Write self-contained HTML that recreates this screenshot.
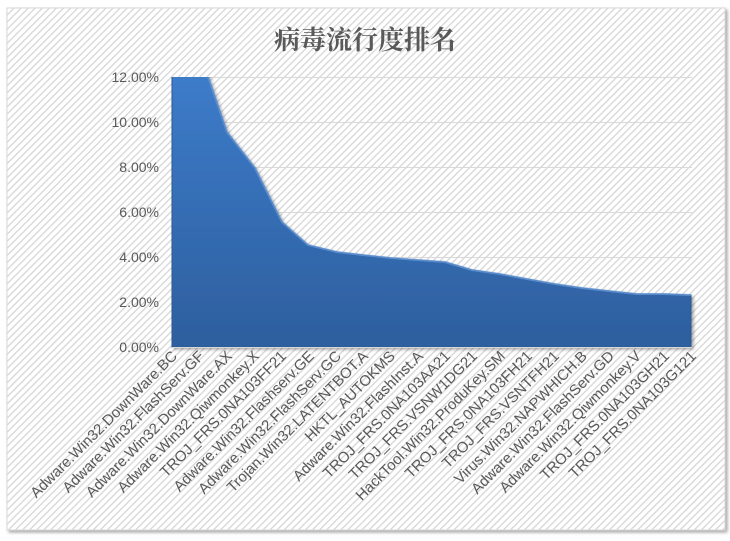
<!DOCTYPE html>
<html><head><meta charset="utf-8"><style>
html,body{margin:0;padding:0;background:#fff;}
svg{display:block;}
</style></head><body>
<svg width="730" height="541" viewBox="0 0 730 541" xmlns="http://www.w3.org/2000/svg">
<defs>
<pattern id="h" width="5" height="5" patternUnits="userSpaceOnUse" patternTransform="rotate(45)">
<rect width="5" height="5" fill="#ffffff"/>
<rect x="0" y="0" width="1.3" height="5" fill="#d6d6d6"/>
</pattern>
<linearGradient id="g" x1="0" y1="0" x2="0" y2="1">
<stop offset="0" stop-color="#3f7fcf"/>
<stop offset="1" stop-color="#2d5f9e"/>
</linearGradient>
<filter id="sh" x="-5%" y="-5%" width="110%" height="110%">
<feDropShadow dx="2" dy="2" stdDeviation="1.5" flood-color="#000" flood-opacity="0.35"/>
</filter>
<clipPath id="c"><rect x="160" y="77" width="560" height="290"/></clipPath>
</defs>
<rect x="0" y="0" width="730" height="541" fill="#fff"/>
<rect x="7" y="8" width="718" height="522" fill="url(#h)" stroke="#d9d9d9" filter="url(#sh)"/>
<text x="365" y="49" text-anchor="middle" font-family="'Noto Serif CJK SC','Liberation Serif',serif" font-size="26" font-weight="bold" fill="#595959">病毒流行度排名</text>
<g stroke="#d9d9d9" stroke-width="1">
<line x1="172" y1="77.5" x2="692" y2="77.5"/>
<line x1="172" y1="122.5" x2="692" y2="122.5"/>
<line x1="172" y1="167.5" x2="692" y2="167.5"/>
<line x1="172" y1="212.5" x2="692" y2="212.5"/>
<line x1="172" y1="257.5" x2="692" y2="257.5"/>
<line x1="172" y1="302.5" x2="692" y2="302.5"/>
</g>
<g font-family="'Liberation Sans',sans-serif" font-size="14" fill="#595959" text-anchor="end">
<text x="159" y="82">12.00%</text>
<text x="159" y="127">10.00%</text>
<text x="159" y="172">8.00%</text>
<text x="159" y="217">6.00%</text>
<text x="159" y="262">4.00%</text>
<text x="159" y="307">2.00%</text>
<text x="159" y="352">0.00%</text>
</g>
<g clip-path="url(#c)">
<path d="M172,347 L172,40 L200,53 L227,132 L255,168 L282,222 L308,245 L337,252 L363,255 L391,258 L418,260 L445,262 L472,270 L500,274 L527,279 L555,284 L582,288 L609,291 L637,294 L664,294 L691,295 L691,347 Z" fill="url(#g)" stroke="#2a5a94" stroke-width="1" filter="url(#sh)"/>
<path d="M200,53 L227,132 L255,168 L282,222 L308,245 L337,252 L363,255 L391,258 L418,260 L445,262 L472,270 L500,274 L527,279 L555,284 L582,288 L609,291 L637,294 L664,294 L691,295" fill="none" stroke="#6da0e0" stroke-width="2" opacity="0.7"/>
</g>
<g stroke="#d9d9d9"><line x1="172" y1="347.5" x2="692" y2="347.5"/></g>
<g font-family="'Liberation Sans',sans-serif" font-size="15" fill="#595959" text-anchor="end">
<text transform="translate(178,357) rotate(-45)">Adware.Win32.DownWare.BC</text>
<text transform="translate(205,357) rotate(-45)">Adware.Win32.FlashServ.GF</text>
<text transform="translate(233,357) rotate(-45)">Adware.Win32.DownWare.AX</text>
<text transform="translate(260,357) rotate(-45)">Adware.Win32.Qiwmonkey.X</text>
<text transform="translate(287,357) rotate(-45)">TROJ_FRS.0NA103FF21</text>
<text transform="translate(315,357) rotate(-45)">Adware.Win32.Flashserv.GE</text>
<text transform="translate(342,357) rotate(-45)">Adware.Win32.FlashServ.GC</text>
<text transform="translate(369,357) rotate(-45)">Trojan.Win32.LATENTBOT.A</text>
<text transform="translate(396,357) rotate(-45)">HKTL_AUTOKMS</text>
<text transform="translate(424,357) rotate(-45)">Adware.Win32.FlashInst.A</text>
<text transform="translate(451,357) rotate(-45)">TROJ_FRS.0NA103AA21</text>
<text transform="translate(478,357) rotate(-45)">TROJ_FRS.VSNW1DG21</text>
<text transform="translate(506,357) rotate(-45)">HackTool.Win32.ProduKey.SM</text>
<text transform="translate(533,357) rotate(-45)">TROJ_FRS.0NA103FH21</text>
<text transform="translate(560,357) rotate(-45)">TROJ_FRS.VSNTFH21</text>
<text transform="translate(588,357) rotate(-45)">Virus.Win32.NAPWHICH.B</text>
<text transform="translate(615,357) rotate(-45)">Adware.Win32.FlashServ.GD</text>
<text transform="translate(642,357) rotate(-45)">Adware.Win32.Qiwmonkey.V</text>
<text transform="translate(670,357) rotate(-45)">TROJ_FRS.0NA103GH21</text>
<text transform="translate(697,357) rotate(-45)">TROJ_FRS.0NA103G121</text>
</g>
</svg>
</body></html>
